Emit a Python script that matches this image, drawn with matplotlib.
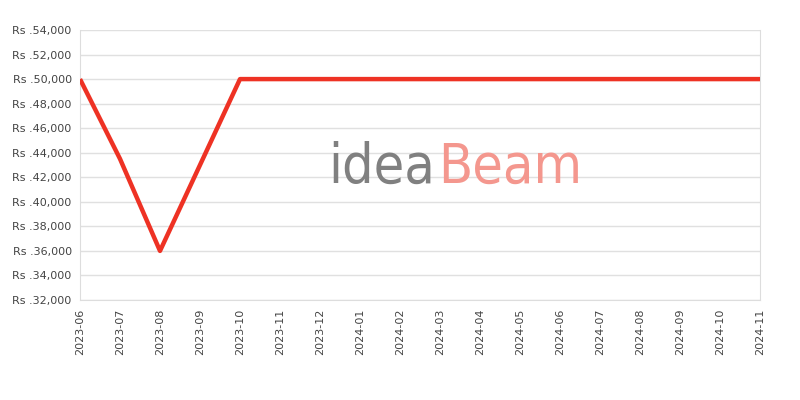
import matplotlib
matplotlib.use("Agg")
import matplotlib.pyplot as plt
from matplotlib.ticker import FuncFormatter

months = ["2023-06", "2023-07", "2023-08", "2023-09", "2023-10", "2023-11",
          "2023-12", "2024-01", "2024-02", "2024-03", "2024-04", "2024-05",
          "2024-06", "2024-07", "2024-08", "2024-09", "2024-10", "2024-11"]
prices = [50000, 43500, 36000, 43000, 50000, 50000,
          50000, 50000, 50000, 50000, 50000, 50000,
          50000, 50000, 50000, 50000, 50000, 50000]
y_ticks = list(range(32000, 54001, 2000))

fig = plt.figure(figsize=(8, 4), dpi=100)
ax = fig.add_axes([0.1, 0.25, 0.85, 0.675])

x = list(range(len(months)))
ax.plot(x, prices, color="#ee3224", linewidth=3.2, solid_capstyle="butt", zorder=3)

ax.set_xlim(0, len(months) - 1)
ax.set_ylim(32000, 54000)
ax.set_yticks(y_ticks)
ax.yaxis.set_major_formatter(FuncFormatter(lambda v, p: "Rs .{:,.0f}".format(v)))
ax.set_xticks(x)
ax.set_xticklabels(months, rotation=90)
ax.tick_params(axis="both", length=0, labelsize=8, colors="#444444", pad=6)
ax.grid(axis="y", color="#e0e0e0", linewidth=1)
for s in ax.spines.values():
    s.set_color("#dddddd")
ax.spines["top"].set_visible(False)
ax.set_axisbelow(True)

# watermark
fig.text(0.5445, 0.58, "idea", fontsize=40, color="#808080", fontstretch="condensed",
         ha="right", va="center", zorder=0, family="DejaVu Sans")
fig.text(0.5475, 0.58, "Beam", fontsize=40, color="#f4978e", fontstretch="condensed",
         ha="left", va="center", zorder=0, family="DejaVu Sans")

fig.savefig("out.png", dpi=100)
